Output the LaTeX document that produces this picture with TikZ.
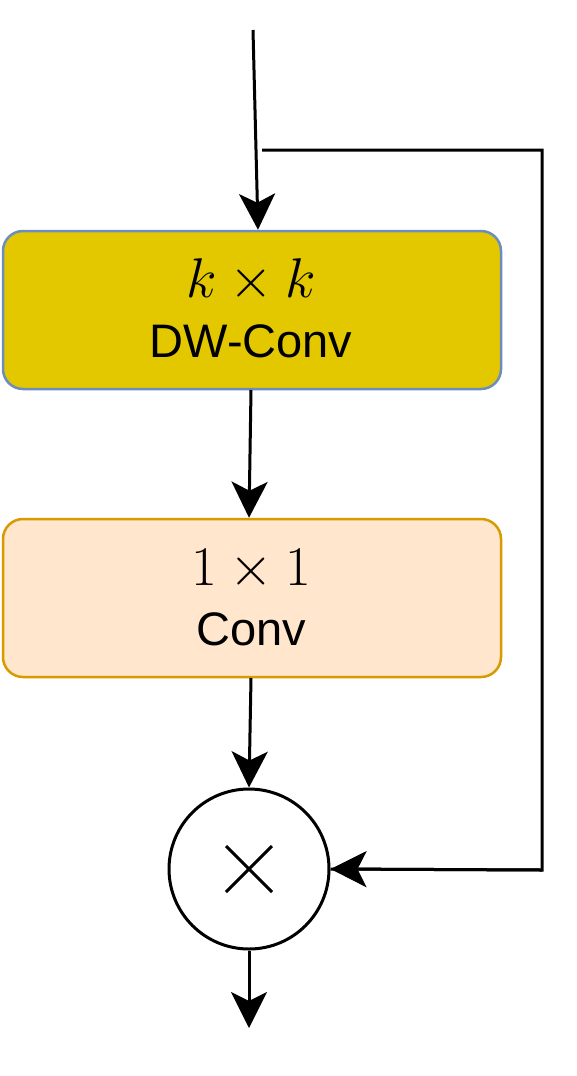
\RequirePackage{fix-cm}
\documentclass[tikz,border=0pt]{standalone}
\usepackage{fontspec}
\setmainfont{Liberation Sans}
\usetikzlibrary{arrows.meta}
\definecolor{dwfill}{HTML}{E3C800}
\definecolor{dwline}{HTML}{6C8EBF}
\definecolor{cvfill}{HTML}{FFE6CC}
\definecolor{cvline}{HTML}{D79B00}
\begin{document}
\begin{tikzpicture}[x=1pt,y=1pt,
  blockbox/.style={rounded corners=20pt, line width=2.5pt, minimum width=498pt, minimum height=158pt, inner sep=0pt},
  mathlabel/.style={anchor=base, inner sep=0pt, font=\fontsize{56}{56}\selectfont},
  textlabel/.style={anchor=base, inner sep=0pt, font=\fontsize{47}{50}\selectfont},
  conn/.style={line width=3pt, -{Stealth[length=36pt,width=36pt,inset=9pt]}},
  plainline/.style={line width=3pt}]
\useasboundingbox (0,0) rectangle (576,-1076);
\node[blockbox, fill=dwfill, draw=dwline] (dw) at (252,-310) {};
\node[mathlabel] (dwm) at (251,-297) {$k\times k$};
\node[textlabel] (dwt) at (251,-357) {DW-Conv};
\node[blockbox, fill=cvfill, draw=cvline] (cv) at (252,-598) {};
\node[mathlabel] (cvm) at (251,-585) {$1\times 1$};
\node[textlabel] (cvt) at (251,-645) {Conv};
\node[circle, draw, line width=3pt, minimum size=160pt, inner sep=0pt] (mul) at (249,-869) {};
\draw[line width=3pt] (mul.center) ++(-23,-23) -- ++(46,46);
\draw[line width=3pt] (mul.center) ++(-23,23) -- ++(46,-46);
\coordinate (in) at (253,-30);
\coordinate (sk0) at (262,-150);
\coordinate (sk1) at (542,-150);
\coordinate (sk2) at (542,-870);
\coordinate (out) at (249,-1028);
\draw[conn] (in) -- (dw.north -| 258,0);
\draw[conn] (251,-390) -- (cv.north -| 249,0);
\draw[conn] (251,-678) -- (mul.north);
\draw[conn] (mul.south) -- (out);
\draw[plainline] (sk0) -- (sk1) -- (sk2) -- (mul.east);
\draw[conn] (sk2) -- (mul.east);
\end{tikzpicture}
\end{document}
